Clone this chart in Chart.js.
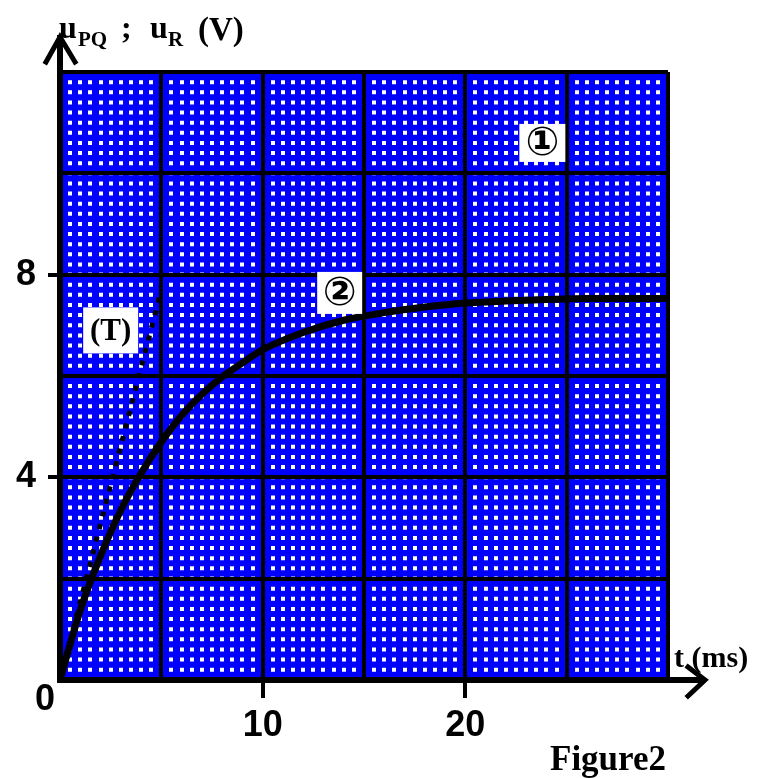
<!DOCTYPE html>
<html>
<head>
<meta charset="utf-8">
<title>Figure2</title>
<script src="https://cdn.jsdelivr.net/npm/chart.js@4.4.0/dist/chart.umd.min.js"></script>
<style>
  body { margin: 0; background: #fff; }
  #fig { display: block; }
</style>
</head>
<body>
<canvas id="fig" width="772" height="778"></canvas>
<script>
const timeMs = [0, 1, 2, 3, 4, 5, 6, 7, 8, 9, 10, 12, 14, 16, 18, 20, 22, 24, 26, 28, 30];
const uR = [0, 1.38, 2.45, 3.35, 4.08, 4.7, 5.22, 5.64, 5.98, 6.26, 6.52, 6.86, 7.1, 7.25, 7.36, 7.44, 7.48, 7.51, 7.53, 7.53, 7.53];
const uPQTime = [0, 30];
const uPQ = [12, 12];
const tangentTime = [0, 4.9];
const tangentU = [0, 7.55];
const xLabelled = [10, 20];
const yLabelled = [4, 8];

const toPoints = (xs, ys) => xs.map((x, i) => ({ x: x, y: ys[i] }));

const curveTags = [
    { text: '\u2460', t: 23.8, u: 10.6, w: 46, h: 38 },
    { text: '\u2461', t: 13.8, u: 7.64, w: 45, h: 42 },
    { text: '(T)', t: 2.5, u: 6.9, w: 55, h: 46 }
];

const serif = '"Liberation Serif", "Times New Roman", serif';
const sans = '"Liberation Sans", Arial, sans-serif';

const figureDecor = {
    id: 'figureDecor',
    beforeDraw(chart) {
        const a = chart.chartArea;
        const ctx = chart.ctx;
        ctx.save();
        ctx.fillStyle = '#0000ff';
        ctx.fillRect(a.left, a.top, a.right - a.left, a.bottom - a.top);
        ctx.restore();
    },
    afterDraw(chart) {
        const a = chart.chartArea;
        const ctx = chart.ctx;
        const xs = chart.scales.x, ys = chart.scales.y;
        ctx.save();
        ctx.strokeStyle = '#000';
        ctx.lineCap = 'square';

        // axis arrows
        ctx.lineWidth = 6;
        ctx.beginPath();
        ctx.moveTo(a.left, a.top);
        ctx.lineTo(a.left, 38);
        ctx.moveTo(a.right, a.bottom);
        ctx.lineTo(702, a.bottom);
        ctx.stroke();
        ctx.lineWidth = 5;
        ctx.lineJoin = 'miter';
        ctx.beginPath();
        ctx.moveTo(a.left - 14, 62);
        ctx.lineTo(a.left, 37);
        ctx.lineTo(a.left + 15, 62);
        ctx.moveTo(688, a.bottom - 13);
        ctx.lineTo(705, a.bottom);
        ctx.lineTo(688, a.bottom + 16);
        ctx.stroke();

        // curve tags
        curveTags.forEach(tag => {
            const px = xs.getPixelForValue(tag.t);
            const py = ys.getPixelForValue(tag.u);
            ctx.fillStyle = '#fff';
            ctx.fillRect(px - tag.w / 2, py - tag.h / 2, tag.w, tag.h);
            ctx.fillStyle = '#000';
            ctx.textAlign = 'center';
            ctx.textBaseline = 'middle';
            ctx.font = tag.text === '(T)' ? 'bold 31px ' + serif : 'bold 40px "DejaVu Sans", sans-serif';
            ctx.fillText(tag.text, px, py + 2);
        });

        // axis titles
        ctx.fillStyle = '#000';
        ctx.textAlign = 'left';
        ctx.textBaseline = 'alphabetic';
        const part = (txt, size, x, y) => {
            ctx.font = 'bold ' + size + 'px ' + serif;
            ctx.fillText(txt, x, y);
        };
        part('u', 32, 59, 38);
        part('PQ', 21, 78, 46);
        part(';', 32, 121, 38);
        part('u', 32, 150, 38);
        part('R', 21, 168, 46);
        part('(V)', 33, 198, 40);

        ctx.font = 'bold 30px ' + serif;
        ctx.fillText('t (ms)', 674, 667);

        ctx.font = 'bold 35px ' + serif;
        ctx.fillText('Figure2', 550, 770);

        ctx.font = 'bold 36px ' + sans;
        ctx.textAlign = 'center';
        ctx.fillText('0', 45, 710);
        ctx.restore();
    }
};

const ctx = document.getElementById('fig').getContext('2d');
new Chart(ctx, {
    type: 'scatter',
    data: {
        datasets: [
            {
                label: 'uR',
                data: toPoints(timeMs, uR),
                showLine: true,
                borderColor: '#000',
                borderWidth: 7,
                pointRadius: 0,
                cubicInterpolationMode: 'monotone'
            },
            {
                label: 'T',
                data: toPoints(tangentTime, tangentU),
                showLine: true,
                borderColor: '#000',
                borderWidth: 5,
                borderDash: [5, 8],
                pointRadius: 0
            },
            {
                label: 'uPQ',
                data: toPoints(uPQTime, uPQ),
                showLine: true,
                borderColor: '#000',
                borderWidth: 4,
                pointRadius: 0,
                clip: false
            }
        ]
    },
    options: {
        responsive: false,
        devicePixelRatio: 1,
        animation: false,
        events: [],
        layout: { padding: { top: 72, right: 104, left: 0, bottom: 0 } },
        plugins: { legend: { display: false }, tooltip: { enabled: false } },
        scales: {
            x: {
                type: 'linear', position: 'bottom', min: 0, max: 30,
                afterFit: s => { s.height = 98; },
                ticks: {
                    stepSize: 5, autoSkip: false, maxRotation: 0, padding: 6, color: '#000',
                    font: { family: sans, weight: 'bold', size: 36 },
                    callback: v => xLabelled.includes(v) ? String(v) : ''
                },
                grid: {
                    z: -1, color: '#000', lineWidth: 4, tickLength: 18, tickWidth: 4,
                    tickColor: c => xLabelled.includes(c.tick.value) ? '#000' : 'rgba(0,0,0,0)'
                },
                border: { color: '#000', width: 6 }
            },
            y: {
                type: 'linear', position: 'left', min: 0, max: 12,
                afterFit: s => { s.width = 60; },
                ticks: {
                    stepSize: 2, autoSkip: false, padding: 12, color: '#000',
                    font: { family: sans, weight: 'bold', size: 36 },
                    callback: v => yLabelled.includes(v) ? String(v) : ''
                },
                grid: {
                    z: -1, color: '#000', lineWidth: 4, tickLength: 12, tickWidth: 4,
                    tickColor: c => yLabelled.includes(c.tick.value) ? '#000' : 'rgba(0,0,0,0)'
                },
                border: { color: '#000', width: 6 }
            },
            xMinor: {
                type: 'linear', position: 'bottom', min: 0, max: 30,
                afterFit: s => { s.height = 0; },
                ticks: { display: false, stepSize: 0.5, autoSkip: false },
                grid: { z: -3, color: '#fff', lineWidth: 4, drawTicks: false },
                border: { display: false, dash: [4, 6.13], dashOffset: 2 }
            }
        }
    },
    plugins: [figureDecor]
});
</script>
</body>
</html>
